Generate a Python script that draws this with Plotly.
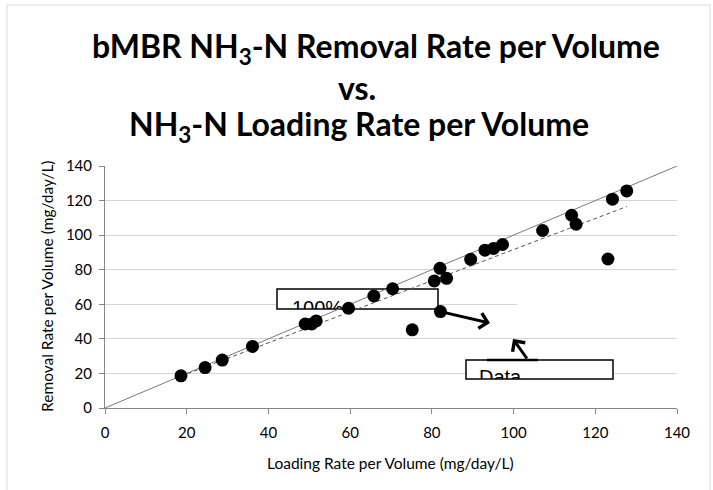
import numpy as np
import plotly.graph_objects as go

# ---- data ----
loading = [18.6, 24.5, 28.7, 36.1, 49.0, 50.6, 51.7, 59.6, 65.8, 70.4, 75.2, 80.6, 82.0,
           82.1, 83.6, 89.5, 93.0, 95.1, 97.3, 107.1, 114.2, 115.3, 123.1, 124.2, 127.7]
removal = [18.6, 23.4, 27.7, 35.6, 48.6, 48.6, 50.4, 57.7, 64.8, 69.0, 45.2, 73.5, 80.8,
           55.8, 75.0, 86.0, 91.3, 92.3, 94.6, 102.7, 111.5, 106.3, 86.2, 120.8, 125.6]
ideal_x = [0, 140]
ideal_y = [0, 140]
ticks = [0, 20, 40, 60, 80, 100, 120, 140]

W, H = 713, 490
L, R, T, B = 105, 36, 166, 82
PW, PH = W - L - R, H - T - B


def px(xp):
    return (xp - L) / PW


def py(yp):
    return (H - B - yp) / PH


def dx(xp):
    return (xp - L) / PW * 140


def dy(yp):
    return (H - B - yp) / PH * 140


slope, icpt = np.polyfit(loading, removal, 1)
tx = [min(loading), max(loading)]
ty = [slope * v + icpt for v in tx]

fig = go.Figure()
fig.add_trace(go.Scatter(x=ideal_x, y=ideal_y, mode="lines",
                         line=dict(color="#7a7a7a", width=1), hoverinfo="skip"))
fig.add_trace(go.Scatter(x=tx, y=ty, mode="lines",
                         line=dict(color="#555555", width=1, dash="4px,3px"), hoverinfo="skip"))
fig.add_trace(go.Scatter(x=loading, y=removal, mode="markers",
                         marker=dict(color="black", size=13)))

# clipped text boxes (overlay subplots)
b1 = (277, 438, 289, 309)
b2 = (466, 613, 360, 379)
fig.add_trace(go.Scatter(x=[(292 - b1[0]) / (b1[1] - b1[0])], y=[-0.05], mode="text",
                         text=["100%"], textposition="middle right",
                         textfont=dict(family="Liberation Sans, Arial", size=20, color="black"),
                         xaxis="x2", yaxis="y2", cliponaxis=True, hoverinfo="skip"))
fig.add_trace(go.Scatter(x=[(479 - b2[0]) / (b2[1] - b2[0])], y=[-0.02], mode="text",
                         text=["Data"], textposition="middle right",
                         textfont=dict(family="Liberation Sans, Arial", size=20, color="black"),
                         xaxis="x3", yaxis="y3", cliponaxis=True, hoverinfo="skip"))

axcol = "#868686"
font = "Lato, Liberation Sans, sans-serif"
fig.update_layout(
    width=W, height=H, showlegend=False,
    margin=dict(l=L, r=R, t=T, b=B),
    paper_bgcolor="white", plot_bgcolor="rgba(0,0,0,0)",
    font=dict(family=font, color="black"),
    xaxis=dict(range=[0, 140], tickvals=ticks, showgrid=False, zeroline=False,
               showline=True, linecolor=axcol, ticks="outside", ticklen=5, tickcolor=axcol,
               tickfont=dict(size=15), ticklabelstandoff=6),
    yaxis=dict(range=[0, 140], tickvals=ticks, showgrid=True, gridcolor="#d4d4d4",
               zeroline=False, showline=True, linecolor=axcol, ticks="outside", ticklen=5,
               tickcolor=axcol, tickfont=dict(size=15), ticklabelstandoff=4),
    xaxis2=dict(domain=[px(b1[0]), px(b1[1])], range=[0, 1], visible=False, anchor="y2"),
    yaxis2=dict(domain=[py(b1[3]), py(b1[2])], range=[0, 1], visible=False, anchor="x2"),
    xaxis3=dict(domain=[px(b2[0]), px(b2[1])], range=[0, 1], visible=False, anchor="y3"),
    yaxis3=dict(domain=[py(b2[3]), py(b2[2])], range=[0, 1], visible=False, anchor="x3"),
)

shapes = [
    # outer chart border
    dict(type="rect", xref="paper", yref="paper", x0=px(7), x1=px(710), y0=py(495), y1=py(5),
         line=dict(color="#d9d9d9", width=1), fillcolor="rgba(0,0,0,0)", layer="below"),
    # gridline gap (white text-box area)
    dict(type="rect", xref="x", yref="y", x0=dx(517), x1=140, y0=59.2, y1=60.8,
         line=dict(width=0), fillcolor="white", layer="between"),
    # text boxes
    dict(type="rect", xref="x", yref="y", x0=dx(b1[0]), x1=dx(b1[1]), y0=dy(b1[3]), y1=dy(b1[2]),
         line=dict(color="black", width=1.5), fillcolor="white", layer="between"),
    dict(type="rect", xref="x", yref="y", x0=dx(b2[0]), x1=dx(b2[1]), y0=dy(b2[3]), y1=dy(b2[2]),
         line=dict(color="black", width=1.5), fillcolor="white", layer="between"),
    dict(type="line", xref="x", yref="y", x0=dx(487), x1=dx(538), y0=dy(360), y1=dy(360),
         line=dict(color="black", width=2.5), layer="above"),
]
fig.update_layout(shapes=shapes)

ann = [
    dict(text="bMBR NH<sub>3</sub>-N Removal Rate per Volume", x=px(376), y=py(48)),
    dict(text="vs.", x=px(357), y=py(88)),
    dict(text="NH<sub>3</sub>-N Loading Rate per Volume", x=px(359), y=py(126)),
]
annotations = []
for a in ann:
    annotations.append(dict(text=a["text"], x=a["x"], y=a["y"], xref="paper", yref="paper",
                            showarrow=False, xanchor="center", yanchor="middle",
                            font=dict(family=font, size=32, color="black", weight="bold")))
annotations.append(dict(text="Loading Rate per Volume (mg/day/L)", x=px(390), y=py(463),
                        xref="paper", yref="paper", showarrow=False,
                        xanchor="center", yanchor="middle",
                        font=dict(family=font, size=15.5, color="black")))
annotations.append(dict(text="Removal Rate per Volume (mg/day/L)", x=px(47), y=py(287),
                        xref="paper", yref="paper", showarrow=False, textangle=-90,
                        xanchor="center", yanchor="middle",
                        font=dict(family=font, size=15.5, color="black")))
# arrows
annotations.append(dict(text="", x=dx(490), y=dy(323), ax=dx(440), ay=dy(311.5),
                        xref="x", yref="y", axref="x", ayref="y", showarrow=True,
                        arrowhead=4, arrowsize=1, arrowwidth=3, arrowcolor="black",
                        standoff=0, startstandoff=0))
annotations.append(dict(text="", x=dx(513), y=dy(339), ax=dx(528), ay=dy(360),
                        xref="x", yref="y", axref="x", ayref="y", showarrow=True,
                        arrowhead=4, arrowsize=1, arrowwidth=3, arrowcolor="black",
                        standoff=0, startstandoff=0))
fig.update_layout(annotations=annotations)

fig.write_html("out.html", config={"displayModeBar": False},
               post_script="document.body.style.margin='0';")
